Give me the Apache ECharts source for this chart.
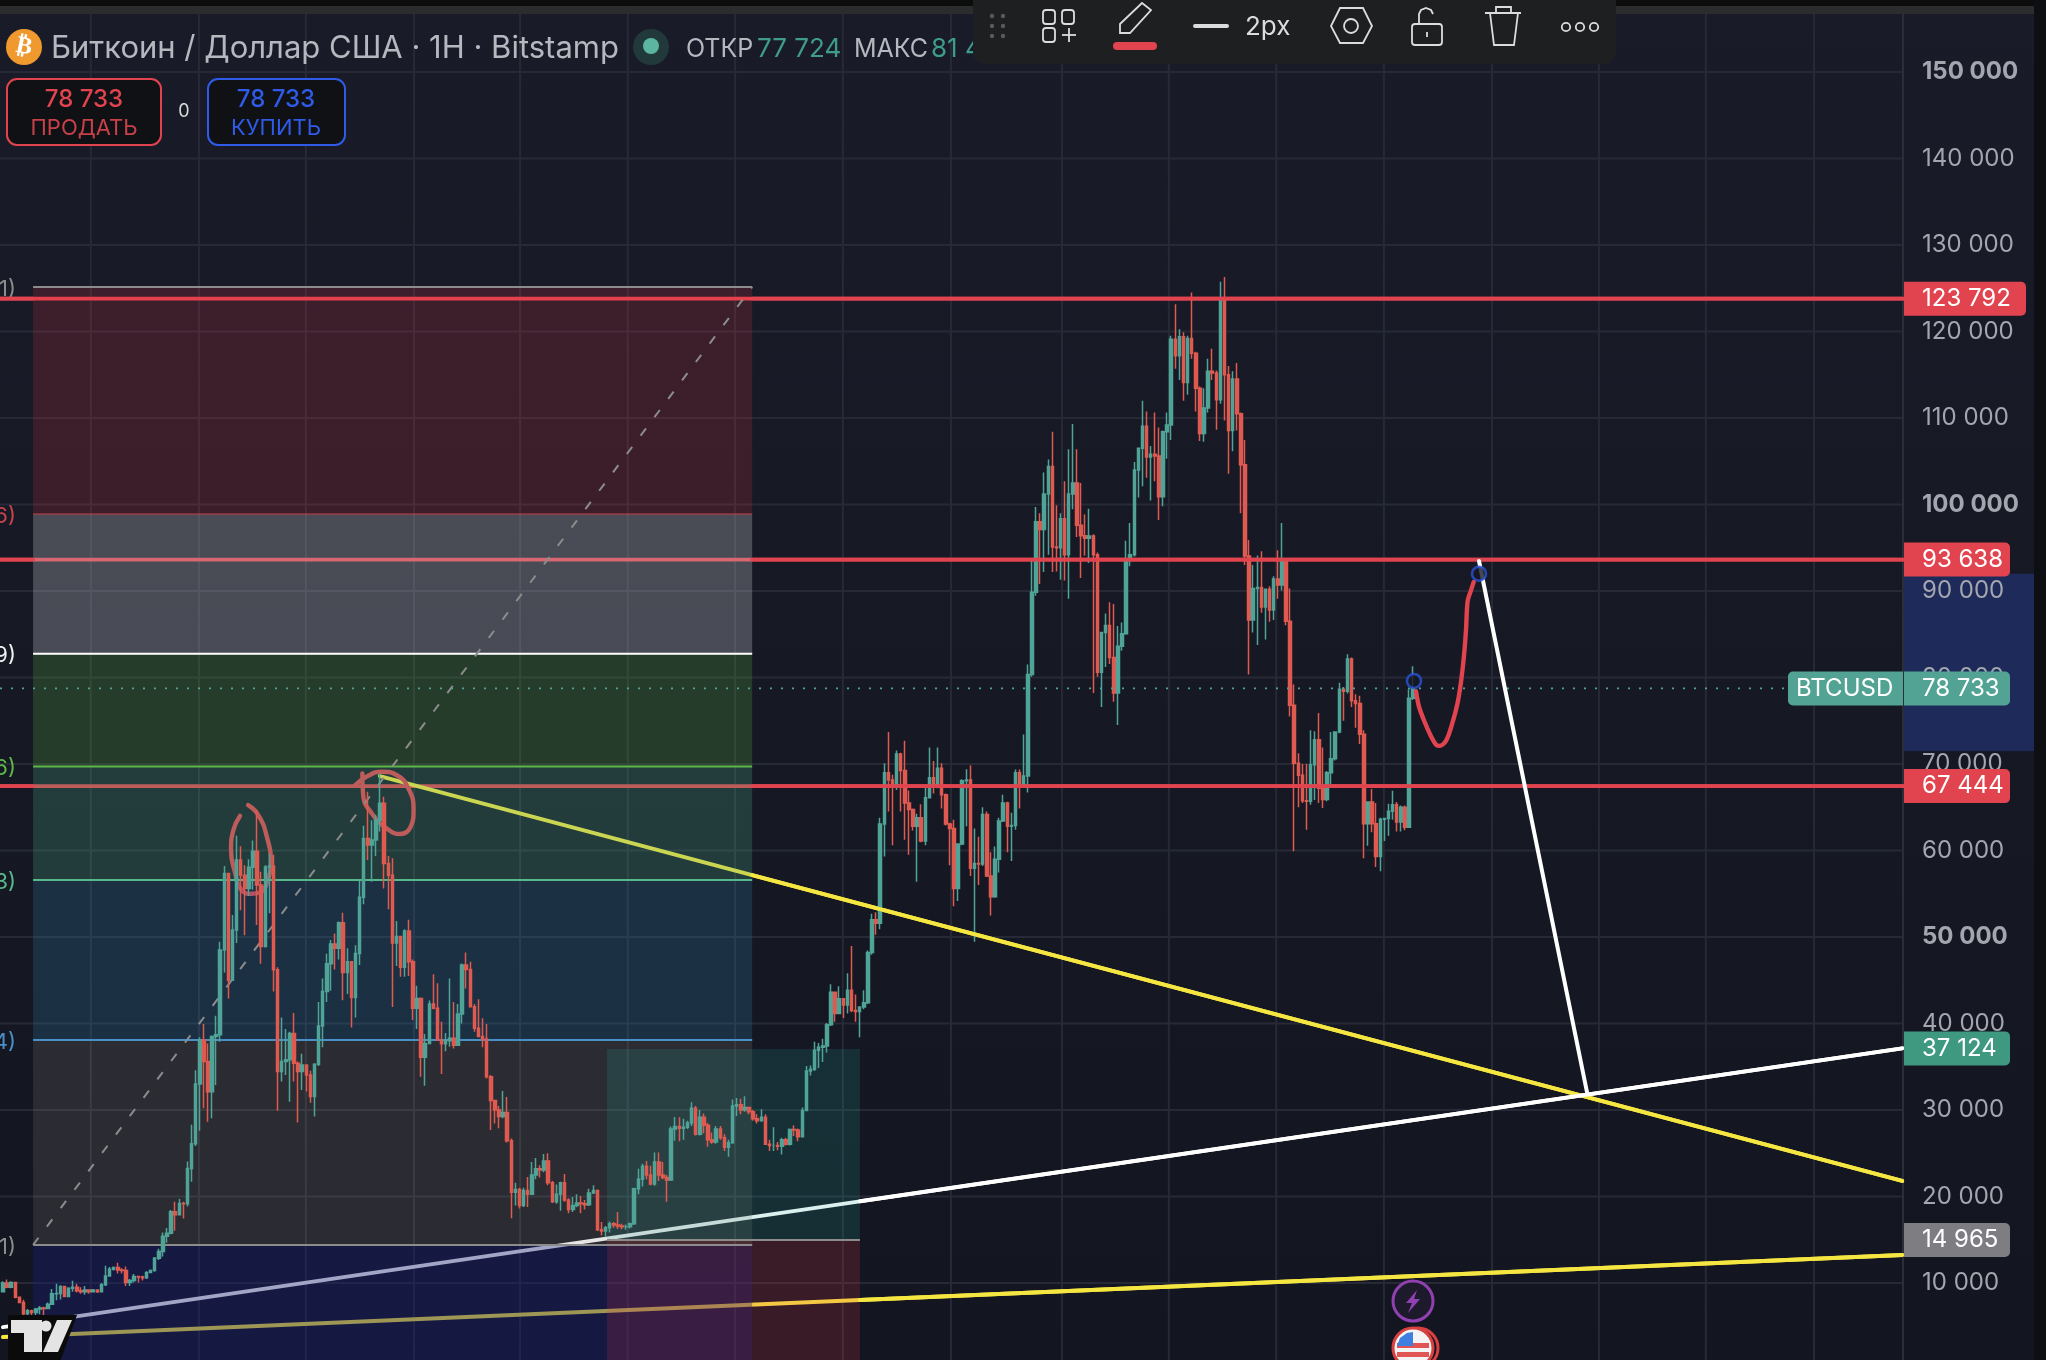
<!DOCTYPE html>
<html><head><meta charset="utf-8">
<style>html,body{margin:0;padding:0;background:#151824;width:2046px;height:1360px;overflow:hidden}#c{width:2046px;height:1380px}</style>
<script src="https://cdn.jsdelivr.net/npm/echarts@6/dist/echarts.min.js"></script>
</head><body><div id="c"></div>
<script>
// ---- price data, thousands of USD, one bar per entry ----
const firstOpenK = 9.0;
const closesK = [
10,9.5,10.05,8.35,7.75,6.45,6.8,6.6,7,7.1,7.05,7.55,8.75,8.8,9.6,8.45,9.4,9.5,9.1,9,9.2,9,9.2,9,9.8,10.8,11.6,11.8,11.5,11.45,10.05,10.3,10.75,10.7,10.6,11.2,11.45,12.85,13.65,15.4,15.75,18.25,17.9,19.2,19.15,23.25,26.1,33,
38.1,35.6,32.1,38.5,38.7,48.5,57.35,45,50.8,58.9,57.15,55.6,58.05,59.9,56,48.9,58.1,58.2,46.2,34.45,35.6,35.8,38.85,35.4,34.45,35.2,34.05,31.55,35.3,39.7,43.7,46.9,49.2,48.7,51.65,45.9,47.15,43,48.1,54.6,61.4,60.65,61.2,63.5,65.45,58.5,57.15,49.3,50.05,46.5,50.7,47.15,41.75,42.9,36.1,37.7,42.25,41.75,38.1,37.65,38,38.3,37.5,41.1,46.75,46.25,41.95,39.45,38.5,38.2,33.85,31.1,30,29.25,29.7,26.45,
20.5,20.8,18.95,20.7,20.25,22.5,23.2,23.05,24.1,21.6,19.4,20.25,21.6,19.6,18.5,18.95,19.25,19.15,19.05,20.4,20.7,16.15,16,16.4,16.85,16.7,16.6,16.5,16.5,16.85,20.9,22,23.5,22.5,21.45,24,22.5,22.2,21.9,27.8,28.1,27.9,28,28.5,
30.2,27.2,29.15,28.25,26.55,26.3,27.8,26.8,25.7,26.2,30.45,30.6,30,30.3,29.8,29,28.75,29.15,26.05,25.9,25.9,25.8,26.55,26.05,27.75,27.7,26.9,29.95,34.5,34.7,36.9,37.25,37.4,39.85,43.6,41.15,42.85,42.15,43.85,41.5,41.4,41.9,42.4,48.2,52,51.6,63.05,69,68.15,67.45,71.15,69.25,65.5,64.75,62.8,63.8,61.1,66.1,68.4,67.45,69.5,66.45,63.05,62.55,55.6,60.75,68.05,68.15,57.95,58.5,58.45,64.15,57.05,54.65,59,63.4,65.5,62.8,62.9,69,67.65,68.6,
80.35,89.85,98,97.1,101.2,104.4,95.1,95,98.35,94.2,101.2,102.5,97.6,96.4,96.1,96.35,94.2,80.6,85.2,86,82.3,78.2,83.6,85.05,93.6,94.2,104,106.5,109.05,105.5,105.8,105.6,100.9,108.4,109.2,119.1,117.2,119.4,114.1,119.2,117.5,113.45,108.2,111.15,115.4,115.2,112.1,123.65,115,108.55,114.5,110.5,104.6,94.05,86.65,90.3,90.4,88.15,90.2,87.8,91.4,90.7,93.6,86.5,76.8,70.1,68.7,65.75,65.7,69.9,72.8,67.2,65.9,69,70.6,73.7,78.65,78.4,82.15,77.3,77,73.45,63.1,65.6,63.1,59.3,63.6,63.7,64.55,65.3,63.3,65,62.7,77.6,78.73];
const highsK = [
10.2,10.4,10.2,9.9,8.45,8.05,7,6.9,7.1,7.35,7.25,7.75,9.3,9.9,9.75,9.65,9.5,10.25,9.9,9.5,9.65,9.2,9.3,9.2,10,12,11.85,11.9,12.35,11.7,11.9,10.45,11.05,10.85,10.85,11.35,11.55,13,13.95,15.85,16.35,18.45,19.4,19.7,19.4,24.05,28.3,34.6,
38.4,39.95,37.7,38.6,40.9,49.45,58.2,57.35,52.55,61.7,60.5,58.3,59,61.15,64.75,57.55,58.3,59.6,59.5,46.5,40.7,39.35,39.05,41.2,35.6,36.5,35.2,34.55,35.4,42.5,45.2,48.05,49.65,50.4,51.8,52.8,48.7,47.2,49.05,56.5,62.85,66.8,63.5,64.1,68.9,66.2,59.35,59.1,51.85,50.1,50.9,52,47.4,44.35,43,38.8,42.65,45.7,44.65,40.2,38.9,45.2,42.5,42.25,46.95,48.2,47.15,42.25,42.8,40.6,39.95,34.05,31.15,30.45,32.2,31.5,
26.7,21.6,21,21,22.25,24,24.45,23.6,24.9,25,21.8,21.4,21.7,22.6,19.8,19.95,20.25,20.05,19.6,20.9,21.3,20.8,17.05,16.6,17.1,17.05,18.2,16.85,16.75,17,21,23.2,23.8,24.1,23.55,25.1,25.1,24,22.5,28.1,29.2,29.15,29,28.75,
30.9,30.45,30,29.6,28.5,27.4,28.15,28.15,27.2,26.55,31.2,31.4,31.3,31.6,30.3,30,29.5,30.1,29.5,26.55,28,26.3,26.8,26.8,27.85,28.25,27.85,30.3,35.1,35.15,37.9,37.75,38.25,40.05,44.55,43.6,44.3,42.95,45.8,48.95,43.35,42,43.85,48.45,52.7,52.85,63.8,70.1,73.7,68.75,71.55,71.3,72.7,66.95,64.85,64.25,65.35,67.45,71.9,70.35,71.9,70.1,66.6,63.2,63.55,60.85,68.25,69.4,69.85,62.55,61.6,65,64.5,59.8,60.45,63.8,66.45,65.65,64.35,69.35,69.35,73.4,
81.5,93.5,99.7,99,103.7,105.2,108.4,99.9,99,102.7,106.4,109.3,106.4,102.5,98.85,99.5,96.55,94.45,85.25,87.4,88.7,88.5,85.95,86.35,95.8,97.85,104.9,106.6,112,110.75,106.75,110.65,108.9,108.55,110.65,119.5,123.15,120.25,119.9,119.5,124.5,117.65,113.65,113.45,116.85,118,115.5,125.75,126.3,116,115.4,116.35,110.65,107.45,95.9,93,94.1,94.6,90.3,90.55,91.7,94.7,97.85,93.6,90.3,79.2,71.25,70,70,73.9,73.8,75.9,71.9,69.2,73.7,73.8,79.4,78.9,82.7,82.3,78.05,77.9,73.9,65.7,67.1,65.5,63.8,63.8,65.4,66.9,65.6,65.2,65.2,78.65,81.3];
const lowsK = [
8.9,9.4,9.4,8.25,7.65,6.1,6.3,6.3,6.3,6.4,6.3,7,7.5,8,8.1,8.35,8.35,9,8.9,8.75,8.65,8.75,9,8.85,9,9.65,10.75,11.45,11.1,11.1,9.65,9.65,10.05,10.05,10.3,10.45,11.15,11.3,12.65,13.05,14.65,15.65,16.05,17.9,17.45,18.85,21.7,25.85,
27.6,30.2,28.65,29.05,32.9,37.9,45.9,42.9,45,49.3,53.1,50.2,54.75,55.45,51.4,46.9,48.8,52.75,43.7,29.9,33.3,34.05,30.95,33.3,28.55,32.3,32.15,30.85,29.25,35.1,37.25,42.5,43.8,46.25,47.4,42.7,43.4,39.55,40.7,46.75,53.8,58.9,56.4,59.35,62.2,55.6,53.2,41.9,46.65,45.4,45.4,45.5,40.4,39.35,33.85,32.8,37.65,41.65,38,34.15,36.8,37.3,37.1,37.4,40,44.05,41.85,39.05,38.4,37.25,33.65,27.7,28.45,27.9,29.05,26.25,
17.5,18.95,18.6,18.8,18.8,20.5,22,22.2,22.8,21.3,19.25,19.15,18.35,19.4,18.05,18.2,18.75,18.05,18.5,18.9,20.3,16,15.5,15.3,15.85,16.4,16.25,16.2,16.15,16.3,16.7,20.25,21.15,22,21.3,21.25,21.8,22,19.4,21.8,26.45,26.4,26.55,27.8,
28.15,27.05,27.05,27.3,25.75,26.1,26.1,26.55,25.25,24.6,26.1,29.3,29.5,29.8,29.5,28.75,28.45,28.65,25.95,25.25,25.25,25.35,24.85,25.9,25.9,27,26.4,26.85,29.95,34,34.5,34.85,35.55,36.65,39.7,40.2,41.15,40.65,41.15,41.3,40.2,38.4,41.65,42.25,47.95,50.25,50.9,59.3,64.5,60.6,67,64.5,61.25,59.5,62.3,56.4,60.95,60.6,66,66.6,67.2,64.85,62.9,58.3,53.55,54.15,60.6,62.8,57.05,49.45,56,58.2,56.95,52.5,54.55,57.45,63.3,59.8,58.8,62.4,64.85,67.3,
66.7,80.1,89.45,90.8,92.2,94.2,92.2,92.25,91.3,91.2,89.1,99.45,96.25,91.5,94.1,93.25,78.2,80.1,76.6,81.2,81.55,77.2,74.5,83.1,84.95,92.85,94,100.8,102.1,103.1,100.45,102.7,98.2,99.8,105.3,107.45,115.7,114.4,112,112.7,116.85,110.75,107.35,107.25,110.65,114.4,108.65,111.65,109.7,103.55,106.15,108.55,99,93,80.35,85.2,83.75,87.5,84.4,86.45,86.65,89.1,90.05,86.05,75.5,59.9,65,65.5,62.4,65.3,65.85,65.5,64.9,65.7,67.7,70.4,73.55,75,78.15,76.6,74.2,72.3,59.1,60.55,62.1,58.1,57.6,61.1,61.7,63.55,62.2,62.2,62.35,62.6,77.4];

// price axis
const yTicks = [10000,20000,30000,40000,50000,60000,70000,80000,90000,100000,110000,120000,130000,140000,150000];
const boldTicks = [50000,100000,150000];
// time grid, in bars
const timeGridBars = [21.6,48.2,74.5,101.1,127.2,153.7,180.1,206.6,233.2,260.5,286.8,313.2,339.7,366.3,392.6,418.9,445.5];

// horizontal drawings and price tags
const redLevels = [123792,93638,67444];
const lastPrice = 78733;
const tagPrices = [123792,93638,78733,67444,37124,14965];
const tagKinds  = ['r','r','t','r','g','n'];
const selPriceRange = [71500,92000];

// fibonacci box: bars [7.4,184.3], levels from top
const fibBars = [7.4,184.3];
const fibLevels = [125150,98900,82750,69700,56600,38100,14400,0];
const fibLabels = ['1)','6)','9)','6)','3)','4)','1)'];
// long/short box
const posBars = [148.6,210.8];
const posLevels = [37050,14965,0];

// trend lines: [bar, price]
const yellowDown = [[92.7,68600],[467.2,21800]];
const whiteUp    = [[0,4900],[467.2,37124]];
const yellowLow  = [[0,3750],[467.2,13250]];
const whiteDown  = [[363.1,93470],[389.7,31970]];
const fibDiagonal = [[7.4,14400],[184.3,125150]];
const forecast = [[347.6,78400],[348.3,76700],[349.6,75000],[351.2,73300],[352.6,72200],[353.5,72100],[355,72700],[356.4,74500],[357.8,77000],[358.7,79600],[359.4,82500],[359.9,85500],[360.3,88850],[361.1,90050],[361.8,91050]];
const sketchA = [[58.3,64000],[56.7,62400],[56.1,60100],[57.1,57400],[58.7,55400],[61.2,55000],[63.6,55250],[64.9,56200],[65.9,58500],[64.9,61600],[62.8,64100],[60.3,65250]];
const sketchB = [[86.6,67550],[89.5,68550],[93.2,69100],[96.9,68700],[99.7,67200],[101,64700],[100.3,62750],[97.7,61900],[94.4,62550],[90.7,64300],[88.6,66400],[88.4,68900]];
const anchors = [[347.1,79600],[363.1,92000]];

const FONT='Inter, Roboto, sans-serif';
const RED='#e2444f', UP='#4fa397', DOWN='#e05a50', YEL='#f5e642', GRID='#272a36';
const barMin=-0.738, barMax=467.4, barStep=1.00836;

const candles = closesK.map((c,i)=>[i*barStep,(i?closesK[i-1]:firstOpenK)*1000,c*1000,lowsK[i]*1000,highsK[i]*1000]);

function fmt(v){return String(v).replace(/\B(?=(\d{3})+$)/g,' ');}
function from(pts,b){ // the part of a straight segment right of bar b
  const [a,e]=pts; const y=a[1]+(e[1]-a[1])*(b-a[0])/(e[0]-a[0]); return [[b,y],e];
}
function line(name,data,color,width,z,extra){
  return Object.assign({type:'line',name,data,showSymbol:false,symbol:'none',silent:true,animation:false,z,
    lineStyle:{color,width,cap:'round',join:'round'},clip:true},extra||{});
}
function custom(name,data,renderItem,z,extra){
  return Object.assign({type:'custom',name,data,renderItem,z,silent:true,animation:false,clip:false},extra||{});
}

const fibFills=['rgba(242,54,69,.17)','rgba(190,190,200,.30)','rgba(89,168,60,.25)','rgba(77,168,132,.25)','rgba(49,120,164,.25)','rgba(136,129,121,.20)','rgba(24,29,116,.40)'];
const fibStroke=['#8c8c8c','#c0404a','#ffffff','#5cb848','#57b88a','#4a90c8','#8c8c8c'];
const fibStrokeW=[2,1.2,2,2,2,2,2];
const fibText=['#8c8c8c','#c8434c','#f0f0f0','#5cb848','#57b88a','#4a90c8','#8c8c8c'];
const posFills=['rgba(38,166,154,.17)','rgba(242,54,69,.17)'];

const vline=(x,col)=>(api)=>{const a=api.coord([x,0]),b=api.coord([x,170000]);
  return {type:'line',shape:{x1:a[0],y1:a[1],x2:b[0],y2:b[1]},style:{stroke:col,lineWidth:2}};};
const series=[
 custom('vgrid',timeGridBars.map(v=>[v]),(p,api)=>vline(api.value(0),GRID)(api),1),
 custom('hgrid',yTicks.map(v=>[v]),(p,api)=>{
   const a=api.coord([barMin,api.value(0)]),b=api.coord([barMax,api.value(0)]);
   return {type:'line',shape:{x1:a[0],y1:a[1],x2:b[0],y2:b[1]},style:{stroke:GRID,lineWidth:2}};},1),
 custom('selection',[selPriceRange],(p,api)=>{
   const a=api.coord([barMax,api.value(1)]),b=api.coord([barMax,api.value(0)]);
   return {type:'rect',shape:{x:a[0]+1,y:a[1],width:130,height:b[1]-a[1]},style:{fill:'#1e2a5a'}};},1),
 custom('axisEdge',[[barMax]],(p,api)=>vline(barMax,'#2b2e39')(api),1),
];
// lines that sit beneath the translucent boxes
const RW=3.8, LW=4, SW=4.4;
redLevels.forEach((v,i)=>series.push(line('red'+i,[[barMin,v],[barMax,v]],RED,RW,2)));
series.push(line('yd',yellowDown,YEL,LW,2), line('wu',whiteUp,'#ffffff',LW,2), line('yl',yellowLow,'#f5e642',LW,2),
  line('skA',sketchA,RED,SW,2,{smooth:.5}), line('skB',sketchB,RED,SW,2,{smooth:.5}));
// boxes
series.push(
 custom('fib',fibFills.map((c,i)=>[i]),(p,api)=>{
   const i=api.value(0),a=api.coord([fibBars[0],fibLevels[i]]),b=api.coord([fibBars[1],fibLevels[i+1]]);
   return {type:'rect',shape:{x:a[0],y:a[1],width:b[0]-a[0],height:b[1]-a[1]},style:{fill:fibFills[i]}};},3),
 custom('pos',posFills.map((c,i)=>[i]),(p,api)=>{
   const i=api.value(0),a=api.coord([posBars[0],posLevels[i]]),b=api.coord([posBars[1],posLevels[i+1]]);
   return {type:'rect',shape:{x:a[0],y:a[1],width:b[0]-a[0],height:b[1]-a[1]},style:{fill:posFills[i]}};},3),
 custom('fibLines',fibLabels.map((c,i)=>[i]),(p,api)=>{
   const i=api.value(0),a=api.coord([fibBars[0],fibLevels[i]]),b=api.coord([fibBars[1],fibLevels[i]]);
   return {type:'group',children:[
     {type:'line',shape:{x1:a[0],y1:a[1],x2:b[0],y2:b[1]},style:{stroke:fibStroke[i],lineWidth:fibStrokeW[i]}},
     {type:'text',x:16,y:a[1]+2,style:{text:fibLabels[i],fill:fibText[i],font:'22px '+FONT,align:'right',verticalAlign:'middle'}}
   ]};},4),
 custom('posLine',[[posLevels[1]]],(p,api)=>{
   const a=api.coord([posBars[0],api.value(0)]),b=api.coord([posBars[1],api.value(0)]);
   return {type:'line',shape:{x1:a[0],y1:a[1],x2:b[0],y2:b[1]},style:{stroke:'#8c8c8c',lineWidth:2}};},4),
 line('diag',fibDiagonal,'#8c8c8c',2,4,{lineStyle:{color:'#8c8c8c',width:2,type:[9,14]}}),
 {type:'candlestick',name:'BTCUSD',data:candles,z:5,animation:false,silent:true,barWidth:3,clip:true,
  itemStyle:{color:UP,color0:DOWN,borderColor:UP,borderColor0:DOWN,borderWidth:1.5}}
);
// parts of the lines that run clear of the boxes, on top of the bars
redLevels.forEach((v,i)=>{
  series.push(line('redR'+i,[[fibBars[1],v],[barMax,v]],RED,RW,8));
  series.push(line('redL'+i,[[barMin,v],[fibBars[0],v]],RED,RW,8));
});
series.push(
 line('ydTop',from(yellowDown,fibBars[1]),YEL,LW,8),
 line('wuTop',from(whiteUp,posBars[1]),'#ffffff',LW,8),
 line('ylTop',from(yellowLow,posBars[1]),'#f5e642',LW,8),
 line('last',[[barMin,lastPrice],[barMax-28,lastPrice]],UP,1.8,7,{lineStyle:{color:UP,width:1.8,type:[2,9]}}),
 line('forecast',forecast,RED,SW,8,{smooth:.3}),
 line('wd',whiteDown,'#ffffff',LW,8),
 {type:'scatter',name:'anchors',data:anchors,symbol:'circle',symbolSize:14,z:9,silent:true,animation:false,
  itemStyle:{color:'#151824',borderColor:'#2a52d8',borderWidth:2.6}},
 custom('tags',tagPrices.map(v=>[v]),(p,api)=>{
   const v=api.value(0),c=api.coord([barMax,v]),k=tagKinds[p.dataIndex];
   const col={r:RED,t:'#52a394',g:'#3f9880',n:'#7d7d82'}[k];
   const w=v>=100000?122:106;
   const kids=[{type:'rect',shape:{x:c[0]+1,y:c[1]-17,width:w,height:34,r:[0,5,5,0]},style:{fill:col}},
     {type:'text',x:c[0]+19,y:c[1],style:{text:fmt(v),fill:'#fff',font:'24px '+FONT,verticalAlign:'middle'}}];
   if(k==='t'){kids.push({type:'rect',shape:{x:c[0]-115,y:c[1]-17,width:115,height:34,r:[5,0,0,5]},style:{fill:col}},
     {type:'text',x:c[0]-107,y:c[1],style:{text:'BTCUSD',fill:'#fff',font:'24px '+FONT,verticalAlign:'middle'}});}
   return {type:'group',children:kids};},20)
);

// ---- screen furniture ----
const S='#dcdcdc';
const g=(o)=>Object.assign({z:100,silent:true},o);
const T=(x,y,text,fill,size,extra)=>g({type:'text',x,y,style:Object.assign({text,fill,font:size+'px '+FONT,verticalAlign:'middle'},extra||{})});
const stroke={fill:'none',stroke:S,lineWidth:1.8};
const poly=(pts)=>g({type:'polyline',shape:{points:pts},style:stroke});
const graphics=[
 g({type:'rect',shape:{x:0,y:0,width:2046,height:6},style:{fill:'#0c0c0c'}}),
 g({type:'rect',shape:{x:0,y:6,width:2046,height:8},style:{fill:'#2b2c2e'}}),
 g({type:'rect',shape:{x:2034,y:0,width:12,height:1380},style:{fill:'#0e0f12'}}),
 g({type:'circle',shape:{cx:24,cy:47,r:18},style:{fill:'#f0992f'}}),
 g({type:'text',x:24,y:47,rotation:-0.2,style:{text:'₿',fill:'#fff',font:'bold 24px "DejaVu Sans"',align:'center',verticalAlign:'middle'}}),
 T(51,49,'Биткоин / Доллар США · 1H · Bitstamp','#b6b8bf',31),
 g({type:'circle',shape:{cx:651,cy:47,r:18},style:{fill:'#21393a'}}),
 g({type:'circle',shape:{cx:651,cy:46,r:8},style:{fill:'#5bb5a1'}}),
 T(686,49,'ОТКР','#b6b8bf',25),
 T(757,49,'77 724','#3f9c8c',26),
 T(854,49,'МАКС','#b6b8bf',25),
 T(931,49,'81 4','#3f9c8c',26),
 // sell / buy
 g({type:'rect',shape:{x:7,y:79,width:154,height:66,r:10},style:{fill:'#101114',stroke:RED,lineWidth:2}}),
 T(84,100,'78 733',RED,24,{align:'center',font:'500 24px '+FONT}),
 T(84,128,'ПРОДАТЬ','#c8404a',22,{align:'center'}),
 T(184,112,'0','#d8d8d8',18,{align:'center'}),
 g({type:'rect',shape:{x:208,y:79,width:137,height:66,r:10},style:{fill:'#101114',stroke:'#2f5be8',lineWidth:2}}),
 T(276,100,'78 733','#2f5be8',24,{align:'center',font:'500 24px '+FONT}),
 T(276,128,'КУПИТЬ','#2f5be8',22,{align:'center'}),
 // toolbar
 g({type:'rect',shape:{x:973,y:-12,width:643,height:76,r:12},style:{fill:'#1e1f21'}}),
];
[[992,16],[1003,16],[992,26],[1003,26],[992,36],[1003,36]].forEach(q=>graphics.push(g({type:'circle',shape:{cx:q[0],cy:q[1],r:2.2},style:{fill:'#5a5a5a'}})));
[[1043,10],[1062,10],[1043,28]].forEach(q=>graphics.push(g({type:'rect',shape:{x:q[0],y:q[1],width:12,height:14,r:3},style:stroke})));
graphics.push(
 poly([[1062,35],[1076,35]]), poly([[1069,28],[1069,42]]),
 g({type:'polygon',shape:{points:[[1120,33],[1120,24],[1142,3],[1151,10],[1130,33]]},style:stroke}),
 g({type:'rect',shape:{x:1113,y:42,width:44,height:8,r:4},style:{fill:RED}}),
 g({type:'rect',shape:{x:1193,y:24,width:36,height:4,r:2},style:{fill:S}}),
 T(1245,27,'2px',S,26),
 g({type:'polygon',shape:{points:[[1340,8],[1363,8],[1372,26],[1363,43],[1340,43],[1331,26]]},style:stroke}),
 g({type:'circle',shape:{cx:1351,cy:26,r:7},style:stroke}),
 g({type:'rect',shape:{x:1412,y:24,width:30,height:21,r:3},style:stroke}),
 poly([[1419,24],[1419,14],[1421,10],[1426,8],[1431,10],[1433,14]]), poly([[1427,32],[1427,37]]),
 poly([[1485,13],[1521,13]]), poly([[1490,13],[1494,45],[1514,45],[1518,13]]), poly([[1496,13],[1496,7],[1511,7],[1511,13]])
);
[1566,1580,1594].forEach(x=>graphics.push(g({type:'circle',shape:{cx:x,cy:27,r:4.2},style:stroke})));
graphics.push(
 // event markers
 g({type:'circle',shape:{cx:1413,cy:1301,r:20},style:{fill:'#1d1b2b',stroke:'#9040b0',lineWidth:3}}),
 g({type:'polygon',shape:{points:[[1417,1290],[1406,1303],[1412,1303],[1408,1313],[1420,1299],[1414,1299]]},style:{fill:'#9040b0'}}),
 g({type:'circle',shape:{cx:1418,cy:1348,r:20},style:{fill:'none',stroke:'#d94040',lineWidth:3}}),
 g({type:'circle',shape:{cx:1413,cy:1348,r:20},style:{fill:'#f4f4f4',stroke:'#d94040',lineWidth:3}}),
 g({type:'rect',shape:{x:1397,y:1343,width:32,height:5},style:{fill:'#e25555'}}),
 g({type:'rect',shape:{x:1397,y:1352,width:32,height:5},style:{fill:'#e25555'}}),
 g({type:'polygon',shape:{points:[[1397,1346],[1400,1338],[1407,1333],[1413,1332],[1413,1346]]},style:{fill:'#3f7fe0'}}),
 // logo
 g({type:'polygon',shape:{points:[[8,1315],[77,1315],[60,1362],[8,1362]]},style:{fill:'#0b0b0b'}}),
 g({type:'polygon',shape:{points:[[11,1320],[42,1320],[42,1352],[24,1352],[24,1333],[11,1333]]},style:{fill:'#e4e4e4'}}),
 g({type:'circle',shape:{cx:46,cy:1326,r:5.5},style:{fill:'#e4e4e4'}}),
 g({type:'polygon',shape:{points:[[57,1320],[72,1320],[58,1352],[43,1352]]},style:{fill:'#e4e4e4'}})
);

const chart=echarts.init(document.getElementById('c'),null,{renderer:'canvas',width:2046,height:1380});
chart.setOption({
 animation:false,
 backgroundColor:{type:'linear',x:0,y:0,x2:0,y2:1,colorStops:[{offset:0,color:'#191c28'},{offset:1,color:'#131620'}]},
 grid:{left:0,right:143,top:72,bottom:10.5,containLabel:false},
 xAxis:{type:'value',min:barMin,max:barMax,show:false,scale:true},
 yAxis:{type:'value',position:'right',min:0,max:150000,interval:10000,z:10,
   axisLine:{show:false},axisTick:{show:false},splitLine:{show:false},
   axisLabel:{margin:19,align:'left',color:'#a3a6af',fontFamily:FONT,fontSize:24,
     formatter:v=>{ if(v<=0) return ''; return boldTicks.includes(v)?'{b|'+fmt(v)+'}':fmt(v);},
     rich:{b:{color:'#a3a6af',fontFamily:FONT,fontSize:24,fontWeight:'bold'}}}},
 series,
 graphic:{elements:graphics}
});
</script></body></html>
